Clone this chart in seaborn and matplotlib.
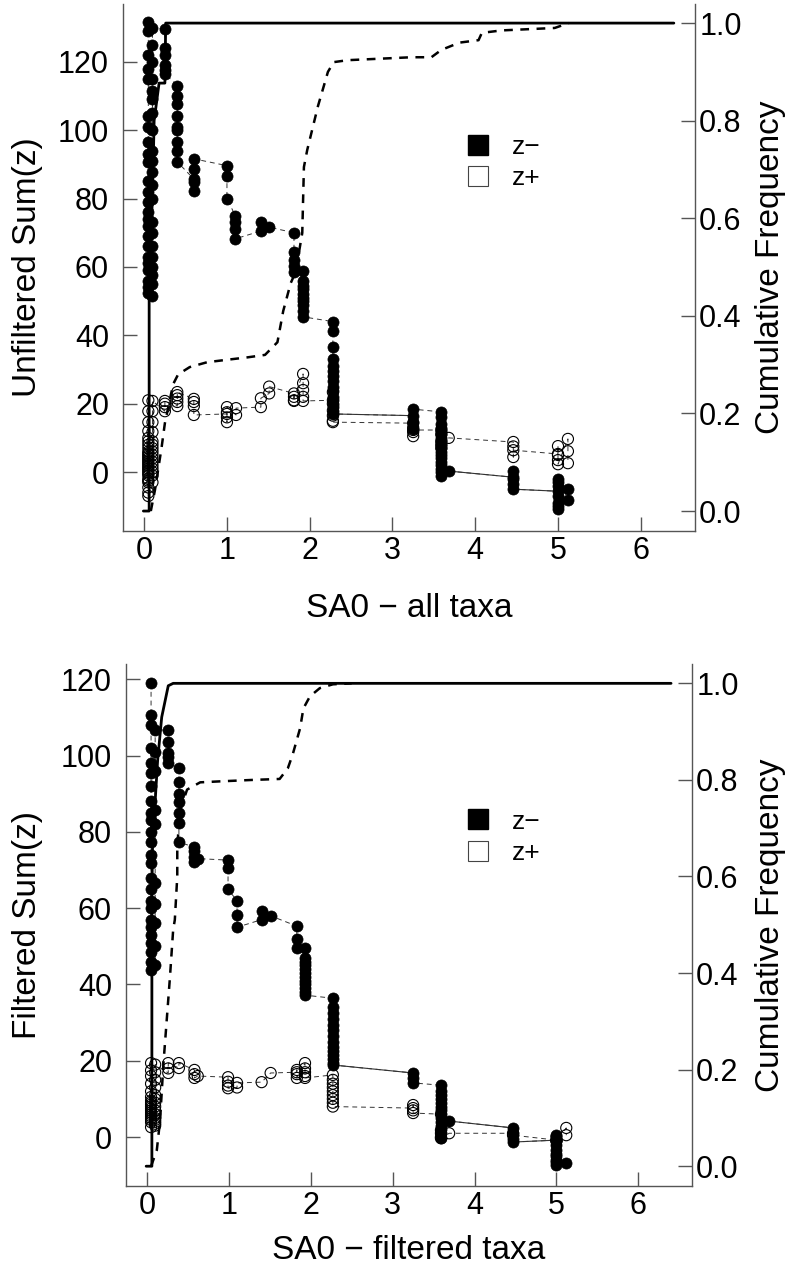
import matplotlib
matplotlib.use('Agg')
import matplotlib.pyplot as plt
from matplotlib.lines import Line2D
import pandas as pd
import seaborn as sns

# ---------------- all taxa (top panel) ----------------
all_neg_sa0 = [0.05, 0.10, 0.25, 0.40, 0.60, 1.00, 1.10, 1.41, 1.51, 1.81,
               1.92, 2.28, 3.25, 3.59, 3.68, 4.46, 5.00, 5.12]
all_neg_sum = [
    [131.5, 129, 122, 118, 115, 104, 101, 96.5, 93, 90.7, 85, 82, 79, 76, 74, 72,
     69, 66, 63, 61, 59, 56, 54, 52.5],
    [51.5, 55, 57.5, 60, 63, 66, 70, 73, 80, 84, 87.8, 91, 94, 100, 105, 109,
     111.5, 115, 120, 125, 130],
    [129.5, 124, 122, 119, 117.5, 116.5],
    [113, 110, 107.7, 104, 101, 100, 96.5, 94, 90.7],
    [85.7, 82.2, 84.7, 88.7, 91.6],
    [89.6, 86.6, 80],
    [75, 73, 71, 68.2],
    [70.5, 73],
    [71.6],
    [70, 64.4, 62, 60.3, 58.5],
    [58.8, 56, 54.5, 53.5, 52, 51, 50, 49, 47, 45.4],
    [44, 41.3, 36.6, 33, 31, 29.6, 28, 26.6, 25, 23.7, 22, 21, 20, 19, 18, 17],
    [16.5, 12.6, 14.6, 18.4],
    [17.6, 16, 14, 13, 12, 11, 10, 9, 8, 7, 6, 5, 4, 3, 2, 1, 0, -1.2],
    [0.3],
    [-1.5, 0.3, -2, -3.5, -5],
    [-5.6, -2, -3, -4, -7, -9, -10, -10.8],
    [-5, -8.2],
]
all_pos_sa0 = [0.05, 0.10, 0.25, 0.40, 0.60, 1.00, 1.11, 1.41, 1.51, 1.81,
               1.92, 2.28, 3.25, 3.59, 3.68, 4.46, 5.00, 5.12]
all_pos_sum = [
    [-7, -6, -4.5, -3, -2.5, -2, -1, -0.5, 0, 0.5, 1, 1.5, 2, 2.5, 3, 3.5, 4, 4.5,
     5, 5.5, 6, 7, 8, 9, 10, 12, 14.6, 17.8, 21],
    [-3, -1, 0, 1, 2, 3, 4, 5, 6, 7, 8, 9, 11.7, 14.6, 17.8, 20.8],
    [17.8, 19, 20, 20.8],
    [19.3, 20.5, 21.5, 22.5, 23.4],
    [21.4, 20.5, 19.3, 16.7],
    [17, 14.6, 16, 17.5, 19],
    [16.7, 18.7],
    [19, 21.6],
    [23, 25],
    [23, 21, 20.8, 22],
    [28.7, 26, 24, 22, 20.8],
    [21, 23.4, 20, 18, 16.5, 15, 14.6],
    [14.3, 13, 11.7, 10.5, 12.3],
    [12.3, 11, 9, 8, 7],
    [10],
    [8.8, 7.5, 4.4, 6.4],
    [5.3, 7.6, 5, 3.5, 2.3],
    [9.7, 6.1, 2.6],
]
all_cum_solid_x = [-0.01, 0.06, 0.06, 0.10, 0.12, 0.18, 0.25, 0.26, 6.40]
all_cum_solid_y = [0.0, 0.0, 0.5, 0.64, 0.80, 0.877, 0.877, 1.0, 1.0]
all_cum_dash_x = [0.08, 0.13, 0.21, 0.25, 0.35, 0.41, 0.55, 0.76, 1.00, 1.25, 1.46,
                  1.61, 1.68, 1.77, 1.83, 1.91, 1.93, 1.97, 2.10, 2.22, 2.29, 2.46,
                  3.23, 3.47, 3.59, 3.81, 4.04, 4.08, 4.32, 4.96, 5.13]
all_cum_dash_y = [0.0, 0.043, 0.13, 0.18, 0.26, 0.28, 0.295, 0.305, 0.31, 0.315, 0.32,
                  0.346, 0.41, 0.467, 0.49, 0.57, 0.705, 0.74, 0.83, 0.90, 0.92, 0.924,
                  0.93, 0.93, 0.945, 0.96, 0.965, 0.98, 0.985, 0.99, 1.0]

# ---------------- filtered taxa (bottom panel) ----------------
filt_neg_sa0 = [0.05, 0.10, 0.26, 0.39, 0.58, 0.62, 0.99, 1.10, 1.40, 1.51,
                1.83, 1.93, 2.27, 3.25, 3.59, 3.69, 4.47, 5.00, 5.12]
filt_neg_sum = [
    [119, 110.6, 108, 102, 98, 95.4, 92, 88, 85, 83, 80, 77.3, 74, 71.8, 68, 65,
     62, 60, 57, 55, 53, 51, 48.5, 46, 43.8],
    [45, 50, 56, 61, 66.6, 82, 85.7, 96, 101, 106.7],
    [106.7, 103.5, 100.6, 99.6, 98],
    [96.7, 93, 90, 87.8, 85, 82.3, 77.3],
    [76, 75, 73.5, 72],
    [73],
    [72.6, 70.5, 65],
    [61.9, 58.2, 55],
    [57, 59.2],
    [58],
    [55.3, 52, 49.5],
    [49.5, 47, 46, 45, 44, 43, 42, 41, 40, 39, 38, 37.2],
    [36.4, 34, 32.5, 31, 29.5, 28, 26.5, 25, 23.5, 22.5, 21.5, 20.5, 19.4, 18.9],
    [16.8, 15.5, 14.2],
    [13.6, 12, 11, 10, 9, 8, 7, 6, 5, 4, 3, 2, 1, -0.3],
    [4.2],
    [2.4, 1, -0.5, -1.3],
    [-0.8, 0.5, -1, -2, -3.5, -4.5, -5, -6, -6.5, -7.3],
    [-6.8],
]
filt_pos_sa0 = [0.05, 0.10, 0.26, 0.39, 0.58, 0.62, 0.99, 1.10, 1.40, 1.51,
                1.83, 1.93, 2.27, 3.25, 3.59, 3.69, 4.47, 5.00, 5.12]
filt_pos_sum = [
    [2.6, 3.9, 4.5, 5, 5.5, 6, 6.5, 7, 7.5, 8, 8.5, 9, 9.5, 10.5, 12, 14, 16, 17.5, 19.4],
    [3, 3.5, 4, 4.5, 5, 6, 7, 8, 9, 10, 11, 13, 15, 17, 19],
    [16.8, 18, 19.4],
    [18.1, 19.4],
    [17.6, 16.5, 15.5],
    [16],
    [15.7, 14.5, 13.5, 12.8],
    [13, 14.2],
    [14.4],
    [16.8],
    [17, 17.6, 16.5, 15.5],
    [19.4, 18, 17, 16, 15.5],
    [16.3, 15, 14, 13, 12, 11, 10, 9, 8],
    [7.6, 8.4, 7, 6.3],
    [6, 1.8, 1, 0, -0.3],
    [1],
    [1, 0.5],
    [-0.8, 0, -1],
    [2.4, 0.5],
]
filt_cum_solid_x = [-0.01, 0.06, 0.06, 0.07, 0.10, 0.13, 0.18, 0.26, 0.32, 6.40]
filt_cum_solid_y = [0.0, 0.0, 0.56, 0.69, 0.756, 0.84, 0.93, 0.995, 1.0, 1.0]
filt_cum_dash_x = [0.05, 0.12, 0.16, 0.20, 0.24, 0.28, 0.32, 0.34, 0.37, 0.37, 0.40,
                   0.49, 0.65, 0.89, 1.29, 1.62, 1.72, 1.78, 1.87, 1.91, 1.99, 2.11,
                   2.27, 2.50]
filt_cum_dash_y = [0.0, 0.033, 0.095, 0.21, 0.30, 0.39, 0.49, 0.51, 0.60, 0.66, 0.735,
                   0.78, 0.795, 0.797, 0.80, 0.802, 0.824, 0.853, 0.907, 0.948, 0.973, 0.99,
                   0.998, 1.0]

SPINE = '#555555'
LINK = '#333333'


def expand(sa0, sums):
    rows = []
    for x, vals in zip(sa0, sums):
        rows += [(x, v) for v in vals]
    return pd.DataFrame(rows, columns=['sa0', 'sumz'])


def draw_links(ax, sa0, sums, solid_links):
    df = expand(sa0, sums)
    sns.lineplot(data=df, x='sa0', y='sumz', sort=False, estimator=None,
                 color=LINK, lw=0.7, ls=(0, (5, 4)), ax=ax)
    for i in solid_links:
        seg = pd.DataFrame({'sa0': [sa0[i], sa0[i + 1]],
                            'sumz': [sums[i][-1], sums[i + 1][0]]})
        sns.lineplot(data=seg, x='sa0', y='sumz', sort=False, estimator=None,
                     color=LINK, lw=0.8, ls='-', ax=ax)


def panel(ax, neg, pos, cum_solid, cum_dash, ylim, ylabel, xlabel,
          solid_links, lab_x, xlab_y, leg_xy):
    draw_links(ax, pos[0], pos[1], [])
    draw_links(ax, neg[0], neg[1], solid_links)

    pos_df = expand(*pos)
    sns.scatterplot(data=pos_df, x='sa0', y='sumz', s=64, color='white',
                    edgecolor='black', linewidth=0.8, ax=ax, zorder=3)
    ax.collections[-1].set_facecolor('none')
    neg_df = expand(*neg)
    sns.scatterplot(data=neg_df, x='sa0', y='sumz', s=64, color='black',
                    edgecolor='black', linewidth=0.5, ax=ax, zorder=4)

    ax.set_xlim(-0.256, 6.656)
    ax.set_ylim(*ylim)
    ax.set_xticks(range(7))
    ax.set_yticks(range(0, 121, 20))
    ax.set_xlabel(xlabel, fontsize=24, color='black')
    ax.set_ylabel(ylabel, fontsize=24, color='black')
    ax.yaxis.set_label_coords(lab_x[0], 0.5)
    ax.xaxis.set_label_coords(0.5, xlab_y)
    ax.tick_params(axis='both', direction='in', length=10, width=1,
                   color=SPINE, labelcolor='black', labelsize=22,
                   bottom=True, left=True)
    ax.tick_params(axis='y', pad=10)
    ax.tick_params(axis='x', pad=4)
    for side in ['left', 'bottom']:
        ax.spines[side].set_color(SPINE)
        ax.spines[side].set_linewidth(1)
    ax.spines['top'].set_visible(False)
    ax.spines['right'].set_visible(False)

    ax2 = ax.twinx()
    sdf = pd.DataFrame({'sa0': cum_solid[0], 'freq': cum_solid[1]})
    ddf = pd.DataFrame({'sa0': cum_dash[0], 'freq': cum_dash[1]})
    sns.lineplot(data=sdf, x='sa0', y='freq', sort=False, estimator=None,
                 color='black', lw=2.0, ax=ax2)
    sns.lineplot(data=ddf, x='sa0', y='freq', sort=False, estimator=None,
                 color='black', lw=1.8, ls=(0, (3.5, 3)), ax=ax2)
    ax2.set_xlim(-0.256, 6.656)
    ax2.set_ylim(-0.04, 1.04)
    ax2.set_yticks([0.0, 0.2, 0.4, 0.6, 0.8, 1.0])
    ax2.set_yticklabels(['0.0', '0.2', '0.4', '0.6', '0.8', '1.0'])
    ax2.set_ylabel('Cumulative Frequency', fontsize=24, color='black')
    ax2.yaxis.set_label_coords(lab_x[1], 0.5)
    ax2.tick_params(axis='y', direction='in', length=10, width=1,
                    color=SPINE, labelcolor='black', labelsize=22, pad=3,
                    right=True)
    for side in ['top', 'left', 'bottom']:
        ax2.spines[side].set_visible(False)
    ax2.spines['right'].set_color(SPINE)
    ax2.spines['right'].set_linewidth(1)

    handles = [Line2D([], [], marker='s', ls='', ms=15, mfc='black', mec='black'),
               Line2D([], [], marker='s', ls='', ms=15, mfc='white', mec='#444444', mew=0.8)]
    leg = ax2.legend(handles, ['z\u2212', 'z+'], loc='upper left', bbox_to_anchor=leg_xy,
                     frameon=False, fontsize=19, handlelength=1.0, handletextpad=0.8,
                     labelspacing=0.28, borderpad=0, borderaxespad=0)
    for t in leg.get_texts():
        t.set_color('black')


sns.set_theme(style='white')
plt.rcParams['font.family'] = ['Liberation Sans', 'DejaVu Sans']
plt.rcParams['axes.unicode_minus'] = True
plt.rcParams['text.color'] = 'black'

fig = plt.figure(figsize=(7.9, 12.76), dpi=100)
ax_top = fig.add_axes([0.1557, 0.5842, 0.7241, 0.4130])
ax_bot = fig.add_axes([0.1595, 0.0709, 0.7165, 0.4087])

panel(ax_top, (all_neg_sa0, all_neg_sum), (all_pos_sa0, all_pos_sum),
      (all_cum_solid_x, all_cum_solid_y), (all_cum_dash_x, all_cum_dash_y),
      (-17.1, 137.0), 'Unfiltered Sum(z)', 'SA0 \u2212 all taxa',
      [11, 14, 15], (-0.140, 1.105), -0.119, (0.597, 0.751))

panel(ax_bot, (filt_neg_sa0, filt_neg_sum), (filt_pos_sa0, filt_pos_sum),
      (filt_cum_solid_x, filt_cum_solid_y), (filt_cum_dash_x, filt_cum_dash_y),
      (-12.7, 124.0), 'Filtered Sum(z)', 'SA0 \u2212 filtered taxa',
      [12, 15, 16], (-0.147, 1.111), -0.095, (0.598, 0.721))

fig.savefig('out.png', dpi=100)
